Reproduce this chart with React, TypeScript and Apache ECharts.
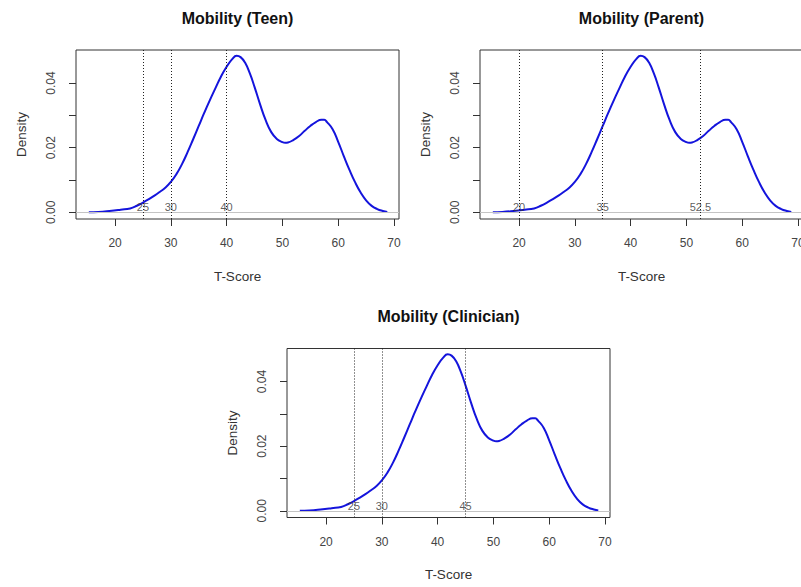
import React, { useEffect, useRef } from 'react';
import * as echarts from 'echarts';

// ---- data ----
const tScores = [
  15.3, 17, 19, 21, 22.7, 24, 25, 26, 27, 28, 29, 30, 31, 32, 33, 34, 35, 36, 37, 38, 39, 40, 41,
  41.8, 42.5, 43.3, 44.2, 45, 46, 47, 48, 49, 50, 50.5, 51, 52, 53, 54, 55, 56, 57, 57.5, 58, 59,
  60, 61, 62, 63, 64, 65, 66, 67, 68, 68.8,
];
const density = [
  0.0, 0.0001, 0.0004, 0.0008, 0.0012, 0.0021, 0.003, 0.004, 0.0051, 0.0063, 0.0076, 0.0094, 0.0118,
  0.0149, 0.0186, 0.0226, 0.0267, 0.0308, 0.0347, 0.0384, 0.042, 0.045, 0.0474, 0.0484, 0.048, 0.0463,
  0.0428, 0.0388, 0.0334, 0.0285, 0.0248, 0.0227, 0.0217, 0.0215, 0.0216, 0.0224, 0.0236, 0.0252,
  0.0267, 0.0279, 0.0286, 0.0286, 0.0279, 0.0257, 0.0218, 0.0174, 0.0132, 0.0094, 0.0062, 0.0037,
  0.002, 0.001, 0.0004, 0.0001,
];
const panelTitles = ['Mobility (Teen)', 'Mobility (Parent)', 'Mobility (Clinician)'];
const teenCutoffs = [25, 30, 40];
const parentCutoffs = [20, 35, 52.5];
const clinicianCutoffs = [25, 30, 45];
const xTicks = [20, 30, 40, 50, 60, 70];
const yTicks = [0, 0.01, 0.02, 0.03, 0.04];
const yTickLabels = [0, 0.02, 0.04];
const xAxisTitle = 'T-Score';
const yAxisTitle = 'Density';

// ---- layout ----
const FONT = "'Liberation Sans', Arial, Helvetica, sans-serif";
const GRID_W = 323;
const GRID_H = 169;
const LAYOUT = [
  { left: 76, top: 50, titleTop: 5 },
  { left: 480, top: 50, titleTop: 5 },
  { left: 287, top: 348.5, titleTop: 303.5 },
];
const X_MIN = 13.0;
const X_MAX = 70.9;
const Y_MIN = -0.00207;
const Y_MAX = 0.0502;
const CUT_LABEL_Y = 0.00155;

const cutoffSets = [teenCutoffs, parentCutoffs, clinicianCutoffs];

function buildOption(): echarts.EChartsOption {
  const grids: any[] = [];
  const xAxes: any[] = [];
  const yAxes: any[] = [];
  const titles: any[] = [];
  const series: any[] = [];
  const curve = tScores.map((x, k) => [x, density[k]]);

  LAYOUT.forEach((L, i) => {
    grids.push({
      left: L.left,
      top: L.top,
      width: GRID_W,
      height: GRID_H,
      show: true,
      borderColor: '#333',
      borderWidth: 1,
      backgroundColor: 'transparent',
      containLabel: false,
      outerBoundsMode: 'none',
    });
    titles.push({
      text: panelTitles[i],
      left: L.left + GRID_W / 2 - 5,
      top: L.titleTop,
      textAlign: 'center',
      textStyle: { fontFamily: FONT, fontSize: 16, fontWeight: 'bold', color: '#111' },
    });
    xAxes.push({
      type: 'value',
      gridIndex: i,
      min: X_MIN,
      max: X_MAX,
      axisLine: { show: false, onZero: false },
      axisTick: { show: true, length: 7, customValues: xTicks, lineStyle: { color: '#333', width: 1 } },
      axisLabel: {
        customValues: xTicks,
        margin: 18,
        fontSize: 12,
        color: '#444',
        fontFamily: FONT,
      },
      splitLine: { show: false },
      name: xAxisTitle,
      nameLocation: 'middle',
      nameGap: 50,
      nameTextStyle: { fontSize: 13.5, color: '#333', fontFamily: FONT },
    });
    yAxes.push({
      type: 'value',
      gridIndex: i,
      min: Y_MIN,
      max: Y_MAX,
      axisLine: { show: false, onZero: false },
      axisTick: { show: true, length: 7, customValues: yTicks, lineStyle: { color: '#333', width: 1 } },
      axisLabel: {
        customValues: yTickLabels,
        rotate: 90,
        margin: 19,
        fontSize: 12,
        color: '#444',
        fontFamily: FONT,
        formatter: (v: number) => Number(v).toFixed(2),
      },
      splitLine: { show: false },
      name: yAxisTitle,
      nameLocation: 'middle',
      nameGap: 48,
      nameTextStyle: { fontSize: 13.5, color: '#333', fontFamily: FONT },
    });
    series.push({
      type: 'line',
      xAxisIndex: i,
      yAxisIndex: i,
      data: curve,
      showSymbol: false,
      smooth: 0.5,
      lineStyle: { color: '#1414dc', width: 2 },
      z: 3,
      markLine: {
        silent: true,
        symbol: ['none', 'none'],
        label: { show: false },
        data: [
          { yAxis: 0, lineStyle: { color: '#c4c4c4', type: 'solid', width: 1 } },
          ...cutoffSets[i].map((c) => ({
            xAxis: c,
            lineStyle: { color: '#222', type: [1, 2], width: 1 },
          })),
        ],
      },
    });
    series.push({
      type: 'scatter',
      xAxisIndex: i,
      yAxisIndex: i,
      data: cutoffSets[i].map((c) => [c, CUT_LABEL_Y]),
      symbolSize: 1,
      itemStyle: { color: 'rgba(0,0,0,0)' },
      silent: true,
      z: 4,
      label: {
        show: true,
        position: 'inside',
        formatter: (p: any) => String(p.value[0]),
        fontSize: 11,
        color: '#333',
        fontFamily: FONT,
      },
    });
  });

  return {
    animation: false,
    backgroundColor: '#ffffff',
    title: titles,
    grid: grids,
    xAxis: xAxes,
    yAxis: yAxes,
    series,
  } as any;
}

export default function App() {
  const ref = useRef<HTMLDivElement>(null);
  useEffect(() => {
    document.body.style.margin = '0';
    if (!ref.current) return;
    const chart = echarts.init(ref.current, undefined, { renderer: 'svg' });
    chart.setOption(buildOption());
    return () => chart.dispose();
  }, []);
  return <div ref={ref} style={{ width: 801, height: 587, background: '#fff' }} />;
}
